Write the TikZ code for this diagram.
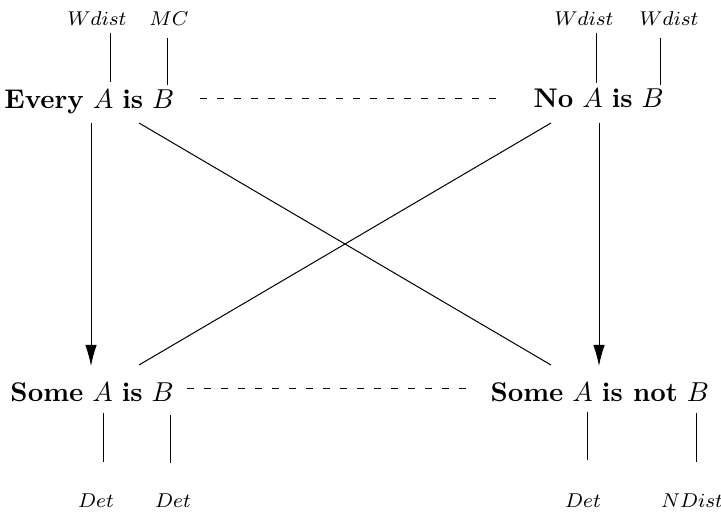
\documentclass[tikz,border=0pt]{standalone}
\usetikzlibrary{arrows.meta}
\begin{document}
\begin{tikzpicture}[x=0.4pt,y=-0.4pt,
  stmt/.style={inner sep=0pt, anchor=base west, font=\fontsize{10.8}{13}\selectfont},
  lbl/.style={inner sep=0pt, font=\footnotesize, anchor=base},
  tick/.style={line width=0.4pt},
  arr/.style={line width=0.4pt, -{Latex[length=8.4pt,width=4.6pt]}},
  dline/.style={line width=0.4pt, dash pattern=on 2.8pt off 4pt}]
\useasboundingbox (0,0) rectangle (721,512);
% statements
\node[stmt] (every) at (4,109) {\textbf{Every} $A$ \textbf{is} $B$};
\node[stmt] (no) at (533,108) {\textbf{No} $A$ \textbf{is} $B$};
\node[stmt] (some) at (10,402) {\textbf{Some} $A$ \textbf{is} $B$};
\node[stmt] (somenot) at (490,402) {\textbf{Some} $A$ \textbf{is not} $B$};
% labels
\node[lbl] (l1) at (97,26) {$Wdist$};
\node[lbl] (l2) at (169,26) {$MC$};
\node[lbl] (l3) at (584,26) {$Wdist$};
\node[lbl] (l4) at (669,26) {$Wdist$};
\node[lbl] (l5) at (96,508) {$Det$};
\node[lbl] (l6) at (173,508) {$Det$};
\node[lbl] (l7) at (583,508) {$Det$};
\node[lbl] (l8) at (692,508) {$NDist$};
% tick coordinates
\coordinate (t1a) at (110,33); \coordinate (t1b) at (110,82);
\coordinate (t2a) at (167,38); \coordinate (t2b) at (167,85);
\coordinate (t3a) at (596,33); \coordinate (t3b) at (596,83);
\coordinate (t4a) at (660,38); \coordinate (t4b) at (660,85);
\coordinate (t5a) at (103,413); \coordinate (t5b) at (103,462);
\coordinate (t6a) at (170,415); \coordinate (t6b) at (170,463);
\coordinate (t7a) at (587,412); \coordinate (t7b) at (587,460);
\coordinate (t8a) at (696,413); \coordinate (t8b) at (696,462);
\foreach \i in {1,...,8} \draw[tick] (t\i a) -- (t\i b);
% connector ends
\coordinate (eA) at (91,123);  \coordinate (sA) at (91,366);
\coordinate (nA) at (599,123); \coordinate (snA) at (599,366);
\coordinate (eD) at (139,123); \coordinate (snD) at (551,365);
\coordinate (nD) at (551,123); \coordinate (sD) at (139,365);
\coordinate (d1a) at (200,99); \coordinate (d1b) at (503,99);
\coordinate (d2a) at (187,389); \coordinate (d2b) at (466,389);
\draw[arr] (eA) -- (sA);
\draw[arr] (nA) -- (snA);
\draw[tick] (eD) -- (snD);
\draw[tick] (nD) -- (sD);
\draw[dline] (d1a) -- (d1b);
\draw[dline] (d2a) -- (d2b);
\end{tikzpicture}
\end{document}
